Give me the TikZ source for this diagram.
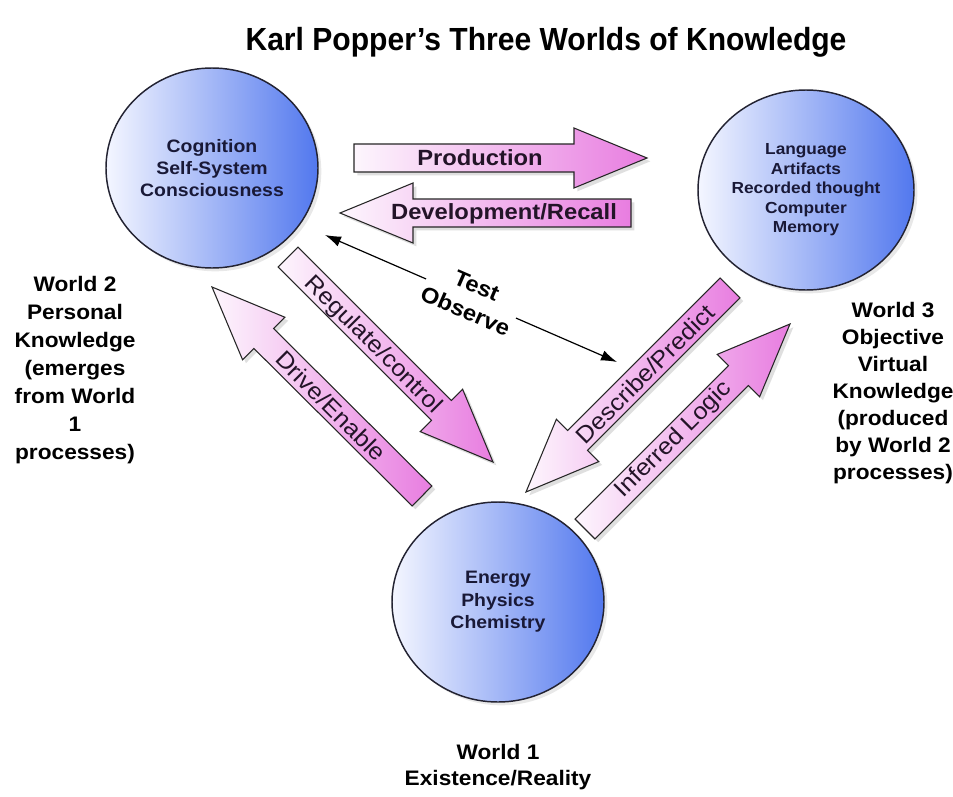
\documentclass[tikz,border=0pt]{standalone}
\usepackage{fontspec}
\setmainfont{Liberation Sans}[FakeStretch=1.08]
\usetikzlibrary{calc,shapes.geometric,shadows,arrows.meta}
\definecolor{circL}{RGB}{244,246,255}
\definecolor{circR}{RGB}{82,120,238}
\definecolor{circline}{RGB}{35,35,50}
\definecolor{pinkL}{RGB}{253,246,253}
\definecolor{pinkR}{RGB}{232,125,224}
\definecolor{ctext}{RGB}{25,25,55}
\definecolor{ltext}{RGB}{35,20,40}
\tikzset{
  world/.style={ellipse, draw=circline, line width=1.1pt, left color=circL, right color=circR,
    minimum width=159pt, minimum height=150pt, inner sep=0pt, align=center, text=ctext,
    font=\bfseries\fontsize{13.5pt}{16.8pt}\selectfont,
    drop shadow={opacity=.18, shadow xshift=2.5pt, shadow yshift=-2.5pt}},
  fatarrowstyle/.style={draw=black!85, line width=0.8pt, left color=pinkL, right color=pinkR,
    drop shadow={opacity=.25, shadow xshift=2.5pt, shadow yshift=-2.5pt}},
  arrowlabel/.style={inner sep=0pt, text=ltext, font=\bfseries\fontsize{16.5pt}{21pt}\selectfont},
  diaglabel/.style={inner sep=0pt, text=ltext, font=\fontsize{17.5pt}{21pt}\selectfont},
  sidetext/.style={align=center, inner sep=0pt, font=\bfseries\fontsize{15.75pt}{21pt}\selectfont},
}
\newcommand\fatarrow[2]{%
  \coordinate (fab) at ($(#2)!54.75pt!(#1)$);
  \path[fatarrowstyle]
    ($(#1)!10.5pt!90:(#2)$) -- ($(fab)!10.5pt!90:(#2)$) -- ($(fab)!22.5pt!90:(#2)$) -- (#2)
    -- ($(fab)!22.5pt!-90:(#2)$) -- ($(fab)!10.5pt!-90:(#2)$) -- ($(#1)!10.5pt!-90:(#2)$) -- cycle;
}
\begin{document}
\begin{tikzpicture}[x=0.75pt, y=-0.75pt]
\useasboundingbox (0,0) rectangle (953,796);
\fill[white] (0,0) rectangle (953,796);

% title
\node[anchor=base, font=\bfseries\fontsize{24pt}{28pt}\selectfont] (title) at (546,50)
  {\scalebox{0.87}[1]{Karl Popper's Three Worlds of Knowledge}};

% worlds
\node[world] (w2) at (212,168) {Cognition\\Self-System\\Consciousness};
\node[world, minimum width=162pt, font=\bfseries\fontsize{12pt}{14.6pt}\selectfont] (w3) at (806,190)
  {Language\\Artifacts\\Recorded thought\\Computer\\Memory};
\node[world] (w1) at (498,602) {Energy\\Physics\\Chemistry};

% side labels
\node[sidetext] (l2) at (75,370) {World 2\\Personal\\Knowledge\\(emerges\\from World\\1\\processes)};
\node[sidetext, font=\bfseries\fontsize{15.75pt}{20.3pt}\selectfont] (l3) at (893,393)
  {World 3\\Objective\\Virtual\\Knowledge\\(produced\\by World 2\\processes)};
\node[sidetext, font=\bfseries\fontsize{15.75pt}{19.5pt}\selectfont] (l1) at (498,767) {World 1\\Existence/Reality};

% fat arrow end points
\coordinate (prodT) at (354,158);  \coordinate (prodP) at (647,158);
\coordinate (devT)  at (631,213);  \coordinate (devP)  at (340,213);
\coordinate (regT)  at (288,257);  \coordinate (regP)  at (493,462);
\coordinate (drvT)  at (422,496);  \coordinate (drvP)  at (212,287);
\coordinate (dscT)  at (730,288);  \coordinate (dscP)  at (526,492);
\coordinate (infT)  at (585,529);  \coordinate (infP)  at (790,324);

\fatarrow{prodT}{prodP}
\fatarrow{devT}{devP}
\fatarrow{regT}{regP}
\fatarrow{drvT}{drvP}
\fatarrow{dscT}{dscP}
\fatarrow{infT}{infP}

\node[arrowlabel] (lprod) at (480,158) {Production};
\node[arrowlabel] (ldev) at (504,214) {Development/Recall};
\node[diaglabel, rotate=-45] (lreg) at (373,345) {Regulate/control};
\node[diaglabel, rotate=-45] (ldrv) at (331,406) {Drive/Enable};
\node[diaglabel, rotate=45] (ldsc) at (645,374) {Describe/Predict};
\node[diaglabel, rotate=45] (linf) at (674,440) {Inferred Logic};

% test / observe
\coordinate (toA) at (325,235);
\coordinate (toB) at (617,362);
\draw[{Latex[length=12pt,width=8pt]}-{Latex[length=12pt,width=8pt]}, line width=0.9pt]
  (toA) -- (toB) node[midway, sloped, fill=white, inner sep=1pt, align=center,
  font=\bfseries\fontsize{16.5pt}{21pt}\selectfont] (testobs) {Test\\Observe};
\end{tikzpicture}
\end{document}
